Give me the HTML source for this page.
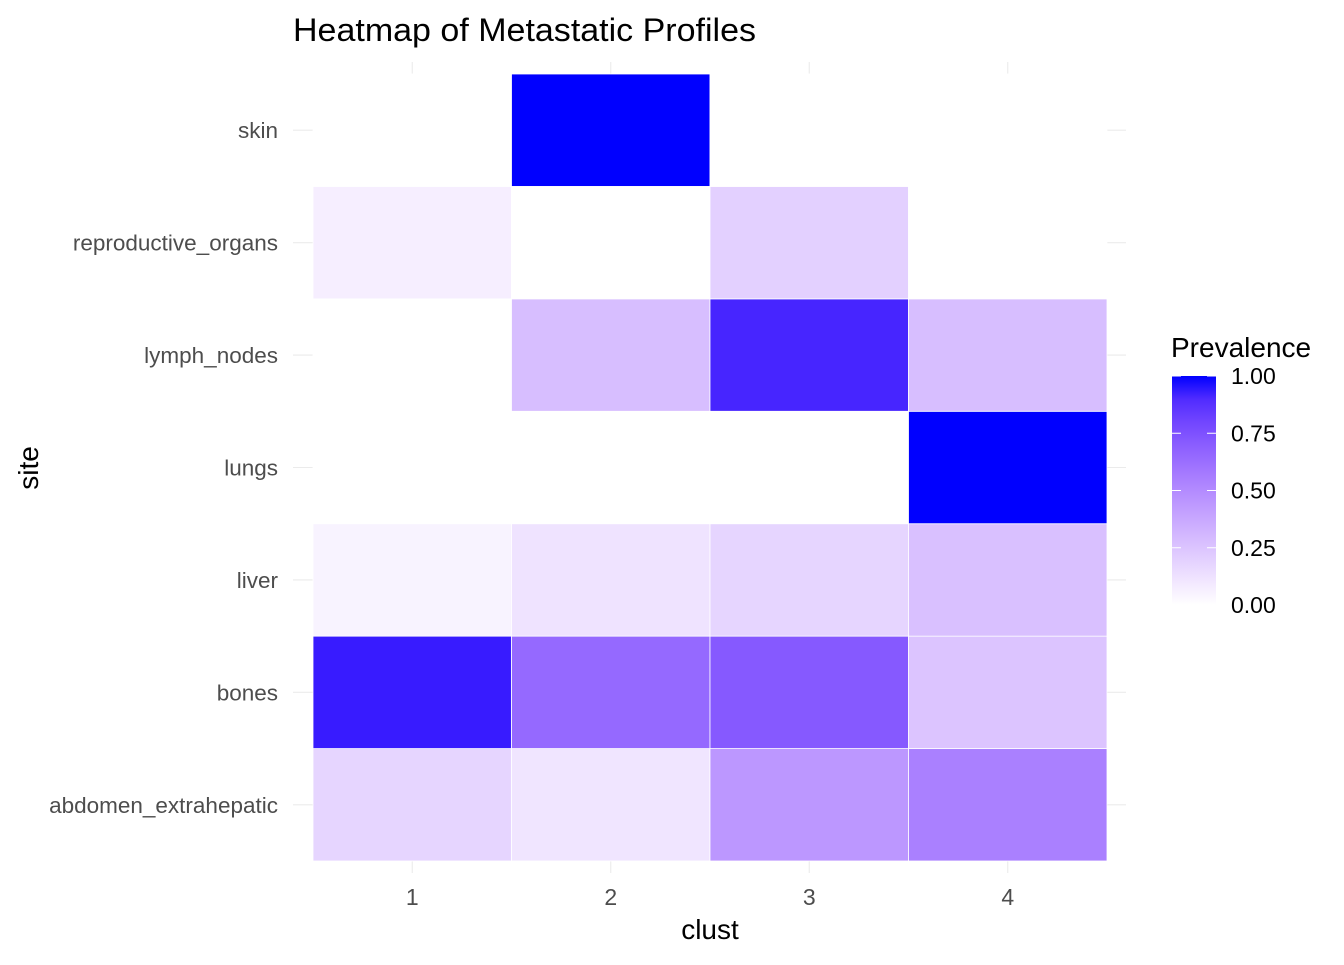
<!DOCTYPE html>
<html><head><meta charset="utf-8"><style>
body{margin:0;background:#fff;font-family:"Liberation Sans",Arial,sans-serif}
</style></head><body>
<svg id="chart" width="1344" height="960" xmlns="http://www.w3.org/2000/svg" font-family="Liberation Sans, Arial, sans-serif">
<defs><linearGradient id="lg" x1="0" y1="1" x2="0" y2="0"></linearGradient></defs>
<g id="grid"></g>
<g id="tiles"></g>
<g id="axes"></g>
<text x="293" y="41" font-size="32" fill="#000" textLength="463" lengthAdjust="spacingAndGlyphs">Heatmap of Metastatic Profiles</text>
<text x="710" y="939" font-size="28" text-anchor="middle" fill="#000">clust</text>
<text transform="translate(38,468) rotate(-90)" font-size="28" text-anchor="middle" fill="#000">site</text>
<g id="legend">
<text x="1171" y="357" font-size="28" fill="#000">Prevalence</text>
</g>
</svg>
<script>
const clusters = ['1','2','3','4'];
const sites = ['abdomen_extrahepatic','bones','liver','lungs','lymph_nodes','reproductive_organs','skin'];
// values[siteIndex][clusterIndex]
const values = [
 [0.18,0.11,0.45,0.55],
 [0.95,0.65,0.72,0.25],
 [0.05,0.12,0.18,0.27],
 [0,0,0,1.00],
 [0,0.28,0.92,0.28],
 [0.07,0,0.2,0],
 [0,1.00,0,0]
];
const legendTicks = [0,0.25,0.5,0.75,1];
const legendLabels = ['0.00','0.25','0.50','0.75','1.00'];

const NS='http://www.w3.org/2000/svg';
const px0=313, px1=1107, py0=74, py1=861;
const cw=(px1-px0)/clusters.length, rh=(py1-py0)/sites.length;
const xc=i=>px0+cw*(i+0.5);
const yc=j=>py1-rh*(j+0.5);
function el(t,a,p){const e=document.createElementNS(NS,t);for(const k in a)e.setAttribute(k,a[k]);p.appendChild(e);return e;}
function toLin(c){c/=255;return c<=0.04045?c/12.92:Math.pow((c+0.055)/1.055,2.4);}
function fromLin(c){c=c<=0.0031308?12.92*c:1.055*Math.pow(c,1/2.4)-0.055;return Math.round(Math.max(0,Math.min(1,c))*255);}
function rgb2lab(r,g,b){r=toLin(r);g=toLin(g);b=toLin(b);
 let X=(r*0.4124+g*0.3576+b*0.1805)/0.95047,Y=r*0.2126+g*0.7152+b*0.0722,Z=(r*0.0193+g*0.1192+b*0.9505)/1.08883;
 const f=t=>t>0.008856?Math.cbrt(t):7.787*t+16/116;X=f(X);Y=f(Y);Z=f(Z);return [116*Y-16,500*(X-Y),200*(Y-Z)];}
function lab2rgb(L,a,b){let Y=(L+16)/116,X=a/500+Y,Z=Y-b/200;const fi=t=>t*t*t>0.008856?t*t*t:(t-16/116)/7.787;
 X=fi(X)*0.95047;Y=fi(Y);Z=fi(Z)*1.08883;
 const r=X*3.2406+Y*-1.5372+Z*-0.4986,g=X*-0.9689+Y*1.8758+Z*0.0415,bb=X*0.0557+Y*-0.2040+Z*1.0570;
 return `rgb(${fromLin(r)},${fromLin(g)},${fromLin(bb)})`;}
const W=rgb2lab(255,255,255),B=rgb2lab(0,0,255);
const col=v=>lab2rgb(W[0]+(B[0]-W[0])*v,W[1]+(B[1]-W[1])*v,W[2]+(B[2]-W[2])*v);

const grid=document.getElementById('grid');
clusters.forEach((c,i)=>{const l=el('line',{x1:xc(i),x2:xc(i),y1:62,y2:873,stroke:'#ebebeb','stroke-width':1.1},grid);
 });
sites.forEach((s,j)=>{const l=el('line',{x1:293,x2:1126,y1:yc(j),y2:yc(j),stroke:'#ebebeb','stroke-width':1.1},grid);
 });
const tiles=document.getElementById('tiles');
values.forEach((row,j)=>row.forEach((v,i)=>{if(v===null)return;
 const r=el('rect',{x:px0+cw*i,y:py1-rh*(j+1),width:cw,height:rh,fill:col(v),stroke:'#fff','stroke-width':0.8},tiles);
 }));
const axes=document.getElementById('axes');
clusters.forEach((c,i)=>{const t=el('text',{x:xc(i),y:905,'font-size':23,fill:'#4d4d4d','text-anchor':'middle'},axes);t.textContent=c;
 });
sites.forEach((s,j)=>{const t=el('text',{x:278,y:yc(j)+8,'font-size':22.5,fill:'#4d4d4d','text-anchor':'end'},axes);t.textContent=s;
 });
const lg=document.getElementById('lg');
for(let k=0;k<=10;k++){el('stop',{offset:k/10,'stop-color':col(k/10)},lg);}
const leg=document.getElementById('legend');
const ly0=605,ly1=376;
const bar=el('rect',{x:1172,y:ly1,width:44,height:ly0-ly1,fill:'url(#lg)'},leg);

legendTicks.forEach((v,k)=>{const y=ly0-(ly0-ly1)*v;
 el('line',{x1:1172,x2:1181,y1:y,y2:y,stroke:'#fff','stroke-width':1},leg);
 el('line',{x1:1207,x2:1216,y1:y,y2:y,stroke:'#fff','stroke-width':1},leg);
 const t=el('text',{x:1231,y:y+8,'font-size':23,fill:'#000'},leg);t.textContent=legendLabels[k];
 });
</script>
</body></html>
